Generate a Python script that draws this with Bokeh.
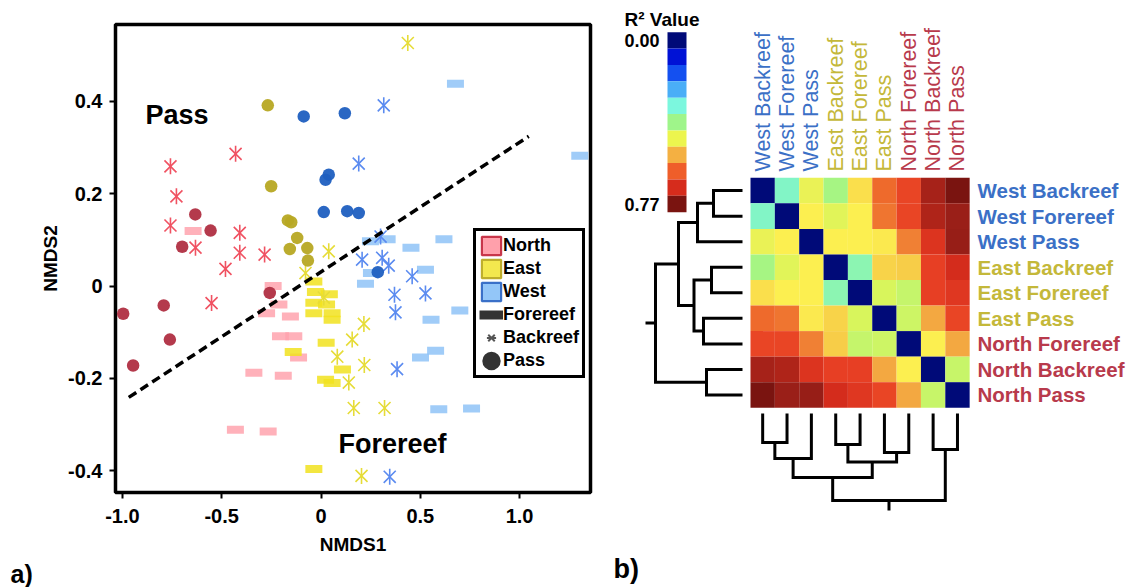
import numpy as np
from bokeh.plotting import figure
from bokeh.models import (Range1d, Label, Legend, LegendItem, FixedTicker,
                          LinearColorMapper, ColumnDataSource, Title)
from bokeh.layouts import row
from bokeh.embed import file_html
from bokeh.resources import INLINE
from bokeh.core.properties import value

FONT = "Liberation Sans"

# ---------------- NMDS data (panel a) ----------------
nf_x = [-0.644, -0.241, -0.212, -0.274, -0.154, -0.204, -0.137, -0.113, -0.338, -0.190, -0.431, -0.266]
nf_y = [0.119, 0.000, -0.040, -0.059, -0.066, -0.109, -0.109, -0.155, -0.188, -0.194, -0.311, -0.315]
nb_x = [-0.430, -0.758, -0.728, -0.758, -0.409, -0.632, -0.409, -0.284, -0.481, -0.551]
nb_y = [0.286, 0.259, 0.194, 0.131, 0.115, 0.083, 0.072, 0.068, 0.037, -0.037]
np_x = [-0.633, -0.556, -0.699, -0.258, -0.996, -0.792, -0.761, -0.946]
np_y = [0.155, 0.120, 0.085, -0.015, -0.060, -0.042, -0.116, -0.172]
ef_x = [-0.036, -0.028, 0.042, -0.036, 0.028, -0.036, 0.056, 0.056, 0.026, -0.140, 0.108, 0.023, 0.056, -0.036]
ef_y = [0.010, -0.013, -0.018, -0.036, -0.040, -0.059, -0.059, -0.073, -0.123, -0.143, -0.181, -0.203, -0.210, -0.396]
eb_x = [0.437, 0.039, -0.078, 0.014, 0.216, 0.157, 0.082, 0.218, 0.140, 0.165, 0.320, 0.204]
eb_y = [0.526, 0.075, 0.028, -0.025, -0.082, -0.116, -0.153, -0.171, -0.209, -0.264, -0.264, -0.411]
ep_x = [-0.268, -0.251, -0.167, -0.150, -0.120, -0.157, -0.069, -0.066]
ep_y = [0.391, 0.216, 0.142, 0.138, 0.104, 0.080, 0.082, 0.055]
wf_x = [0.677, 1.303, 0.249, 0.333, 0.453, 0.619, 0.254, 0.526, 0.224, 0.699, 0.554, 0.577, 0.501, 0.593, 0.758]
wf_y = [0.438, 0.282, 0.097, 0.101, 0.083, 0.101, 0.028, 0.035, 0.005, -0.053, -0.073, -0.140, -0.155, -0.267, -0.265]
wb_x = [0.316, 0.190, 0.300, 0.207, 0.308, 0.341, 0.459, 0.526, 0.370, 0.375, 0.383, 0.346]
wb_y = [0.391, 0.265, 0.107, 0.057, 0.061, 0.044, 0.021, -0.016, -0.019, -0.057, -0.180, -0.413]
wp_x = [-0.087, 0.120, 0.023, 0.039, 0.014, 0.132, 0.190, 0.286]
wp_y = [0.367, 0.374, 0.230, 0.241, 0.160, 0.162, 0.158, 0.030]

sep_x = [-0.968, 1.046]
sep_y = [-0.241, 0.324]

x_ticks = [-1.0, -0.5, 0.0, 0.5, 1.0]
y_ticks = [-0.4, -0.2, 0.0, 0.2, 0.4]
x_tick_text = {-1.0: "-1.0", -0.5: "-0.5", 0.0: "0", 0.5: "0.5", 1.0: "1.0"}
y_tick_text = {-0.4: "-0.4", -0.2: "-0.2", 0.0: "0", 0.2: "0.2", 0.4: "0.4"}

# ---------------- R2 matrix data (panel b) ----------------
hm_labels = ["West Backreef", "West Forereef", "West Pass",
             "East Backreef", "East Forereef", "East Pass",
             "North Forereef", "North Backreef", "North Pass"]
hm_region = ["West", "West", "West", "East", "East", "East", "North", "North", "North"]
r2 = [
    [0.00, 0.32, 0.45, 0.37, 0.485, 0.61, 0.65, 0.725, 0.77],
    [0.32, 0.00, 0.47, 0.44, 0.47, 0.60, 0.65, 0.72, 0.735],
    [0.45, 0.47, 0.00, 0.47, 0.47, 0.475, 0.59, 0.675, 0.74],
    [0.37, 0.44, 0.47, 0.00, 0.335, 0.50, 0.505, 0.655, 0.69],
    [0.485, 0.47, 0.47, 0.335, 0.00, 0.43, 0.405, 0.655, 0.67],
    [0.61, 0.60, 0.475, 0.50, 0.43, 0.00, 0.415, 0.55, 0.65],
    [0.65, 0.65, 0.59, 0.505, 0.405, 0.415, 0.00, 0.47, 0.55],
    [0.725, 0.72, 0.675, 0.655, 0.655, 0.55, 0.47, 0.00, 0.41],
    [0.77, 0.735, 0.74, 0.69, 0.67, 0.65, 0.55, 0.41, 0.00],
]
r2_low, r2_high = 0.0, 0.77
cb_ticks = [0.00, 0.77]
# hierarchical clustering (child a, child b, height)
merges = [(0, 1, 0.29), (9, 2, 0.45), (3, 4, 0.31), (5, 6, 0.39),
          (11, 12, 0.485), (10, 13, 0.64), (7, 8, 0.36), (14, 15, 0.87)]

# ---------------- styles ----------------
C = {
    "NF": "#ffa3ae", "NB": "#f05262", "NP": "#b02f42",
    "EF": "#f1e21e", "EB": "#e6dc38", "EP": "#b7a823",
    "WF": "#8fc3f7", "WB": "#5b8bf0", "WP": "#1f5fc0",
}
region_text = {"West": "#3b70c6", "East": "#c4b83a", "North": "#b83a4c"}
cb_colors = ["#000a78", "#0012d6", "#1450f0", "#4aaef7", "#7cf7de", "#9ff58a",
             "#ecf54e", "#f4b042", "#ef5e2a", "#d62c1c", "#7a1410"]
hm_anchor_vals = [0.0, 0.05, 0.12, 0.2, 0.308, 0.36, 0.43, 0.47, 0.52, 0.56, 0.61, 0.655, 0.69, 0.735, 0.77]
hm_anchor_cols = ["#000a78", "#0012d0", "#0f4cf0", "#46aaf5", "#7af5d8", "#9ef58a", "#d8f55c", "#fcef50",
                  "#f5c045", "#f2a040", "#ee6a2c", "#e84024", "#d42c1c", "#9c2018", "#7a1410"]


def hex2rgb(h):
    h = h.lstrip("#")
    return np.array([int(h[i:i + 2], 16) for i in (0, 2, 4)], dtype=float)


def build_palette(vals, cols, n=232):
    grid = np.linspace(vals[0], vals[-1], n)
    rgb = np.array([hex2rgb(c) for c in cols])
    out = []
    for g in grid:
        r = [np.interp(g, vals, rgb[:, k]) for k in range(3)]
        out.append("#%02x%02x%02x" % tuple(int(round(v)) for v in r))
    return out


hm_palette = build_palette(hm_anchor_vals, hm_anchor_cols)

# ================= Panel a: NMDS scatter =================
X0PX, XUNIT = 320.5, 198.6
Y0PX, YUNIT = 285.5, 462.0
FL, FR, FT, FB = 115, 590, 24, 492   # frame edges in window px


def ax(px):
    return (px - X0PX) / XUNIT


def ay(py):
    return (Y0PX - py) / YUNIT


p1 = figure(width=610, height=587, x_range=Range1d(ax(FL), ax(FR)), y_range=Range1d(ay(FB), ay(FT)),
            output_backend="svg", toolbar_location=None, frame_align=False,
            min_border_left=FL, min_border_right=610 - FR, min_border_top=FT, min_border_bottom=587 - FB)
p1.grid.visible = False
p1.outline_line_color = "black"
p1.outline_line_width = 3.5
p1.outline_line_alpha = 1.0
p1.xaxis.ticker = FixedTicker(ticks=x_ticks)
p1.yaxis.ticker = FixedTicker(ticks=y_ticks)
p1.xaxis.major_label_overrides = x_tick_text
p1.yaxis.major_label_overrides = y_tick_text
p1.xaxis.axis_label = "NMDS1"
p1.yaxis.axis_label = "NMDS2"
for a in (p1.xaxis[0], p1.yaxis[0]):
    a.axis_line_color = None
    a.major_tick_out = 6
    a.major_tick_in = 0
    a.major_tick_line_width = 2
    a.minor_tick_line_color = None
    a.major_label_text_font = FONT
    a.major_label_text_font_style = "bold"
    a.major_label_text_font_size = "20px"
    a.major_label_text_color = "black"
    a.axis_label_text_font = FONT
    a.axis_label_text_font_style = "bold"
    a.axis_label_text_font_size = "19px"
    a.axis_label_text_color = "black"
p1.xaxis.major_label_standoff = 10
p1.yaxis.major_label_standoff = 7
p1.xaxis.axis_label_standoff = 8
p1.yaxis.axis_label_standoff = 4

# forereef (rectangles)
for xs, ys, k in ((nf_x, nf_y, "NF"), (ef_x, ef_y, "EF"), (wf_x, wf_y, "WF")):
    p1.scatter(xs, ys, marker="dash", size=17, line_width=8, line_color=C[k], line_alpha=0.85)
# backreef (six-armed asterisks: an x with a vertical bar)
for xs, ys, k in ((nb_x, nb_y, "NB"), (eb_x, eb_y, "EB"), (wb_x, wb_y, "WB")):
    p1.scatter(xs, ys, marker="x", size=17, line_width=1.6, line_color=C[k])
    p1.scatter(xs, ys, marker="dash", angle=np.pi / 2, size=16, line_width=1.6, line_color=C[k])
# pass (circles)
for xs, ys, k in ((np_x, np_y, "NP"), (ep_x, ep_y, "EP"), (wp_x, wp_y, "WP")):
    p1.scatter(xs, ys, marker="circle", size=12.5, fill_color=C[k], line_color=None, fill_alpha=0.95)

p1.line(sep_x, sep_y, line_color="black", line_width=3.5, line_dash="9 5")

lab_kw = dict(text_font=FONT, text_font_style="bold", text_color="black", text_baseline="middle")
p1.add_layout(Label(x=ax(145), y=ay(114), text="Pass", text_font_size="27px", **lab_kw))
p1.add_layout(Label(x=ax(338), y=ay(443), text="Forereef", text_font_size="27px", **lab_kw))
p1.add_layout(Title(text="a)", align="left", offset=-(FL - 10), standoff=0, text_font=FONT,
                    text_font_style="bold", text_font_size="25px", text_color="black"), "below")

# legend (dummy renderers carry the legend styling)
nan = [np.nan]
lg_n = p1.rect(nan, nan, width=1, height=1, fill_color="#ffa0ab", line_color="#c8364a", line_width=2.2)
lg_e = p1.rect(nan, nan, width=1, height=1, fill_color="#f3e84e", line_color="#beae2c", line_width=2.2)
lg_w = p1.rect(nan, nan, width=1, height=1, fill_color="#93c6f8", line_color="#3a70c8", line_width=2.2)
lg_f = p1.line(nan, nan, line_color="#333333", line_width=9)
lg_b1 = p1.scatter(nan, nan, marker="x", line_color="#555555", line_width=2)
lg_b2 = p1.scatter(nan, nan, marker="dash", angle=np.pi / 2, line_color="#555555", line_width=2)
lg_p = p1.ellipse(nan, nan, width=16, height=16, width_units="screen", height_units="screen",
                  fill_color="#333333", line_color=None)
legend = Legend(items=[LegendItem(label="North", renderers=[lg_n]),
                       LegendItem(label="East", renderers=[lg_e]),
                       LegendItem(label="West", renderers=[lg_w]),
                       LegendItem(label="Forereef", renderers=[lg_f]),
                       LegendItem(label="Backreef", renderers=[lg_b1, lg_b2]),
                       LegendItem(label="Pass", renderers=[lg_p])],
                location=(473 - FL, FB - 378), glyph_width=24, glyph_height=23, spacing=0, padding=3,
                label_standoff=0, label_height=20, label_text_font=FONT, label_text_font_style="bold",
                label_text_font_size="18px", label_text_color="black",
                border_line_color="black", border_line_width=3, border_line_alpha=1.0,
                background_fill_color="white", background_fill_alpha=1.0)
p1.add_layout(legend)

# ================= Panel b: R2 heatmap with dendrograms =================
HX0, HY0 = 750.0, 177.3      # heatmap top-left (window px)
CW, CH = 24.35, 25.55        # cell size px
PX0 = 610                    # panel b left edge in window px
DPX = 100.0                  # dendrogram px per height unit
STUB = 0.1


def bx(px):
    return (px - HX0) / CW


def by(py):
    return (HY0 - py) / CH


p2 = figure(width=1137 - PX0, height=587, x_range=Range1d(bx(PX0), bx(1137)), y_range=Range1d(by(587), by(0)),
            output_backend="svg", toolbar_location=None, min_border=0, frame_align=False,
            x_axis_location=None, y_axis_location=None)
p2.grid.visible = False
p2.outline_line_color = None

n = len(hm_labels)
cx, cy, cv = [], [], []
for i in range(n):
    for j in range(n):
        cx.append(j + 0.5)
        cy.append(-(i + 0.5))
        cv.append(r2[i][j])
mapper = LinearColorMapper(palette=hm_palette, low=r2_low, high=r2_high)
p2.rect(x="x", y="y", width=1.0, height=1.0, source=ColumnDataSource(dict(x=cx, y=cy, v=cv)),
        fill_color={"field": "v", "transform": mapper}, line_color=None)

# row labels (right) and column labels (top)
lab_cols = [region_text[r] for r in hm_region]
p2.text(x=[bx(977)] * n, y=[-(i + 0.5) for i in range(n)], text=hm_labels, text_color=lab_cols,
        text_font=value(FONT), text_font_style="bold", text_font_size="20.5px",
        text_align="left", text_baseline="middle")
p2.text(x=[j + 0.5 for j in range(n)], y=[by(171)] * n, text=hm_labels, text_color=lab_cols,
        angle=np.pi / 2, text_font=value(FONT), text_font_size="21.5px",
        text_align="left", text_baseline="middle")


# dendrograms
def dendro_paths(merge_list, n_leaves):
    pos = {i: i + 0.5 for i in range(n_leaves)}
    hgt = {i: 0.0 for i in range(n_leaves)}
    paths = []
    for k, (a, b, h) in enumerate(merge_list):
        node = n_leaves + k
        paths.append(([pos[a], pos[a], pos[b], pos[b]], [hgt[a], h, h, hgt[b]]))
        pos[node] = (pos[a] + pos[b]) / 2.0
        hgt[node] = h
    root = n_leaves + len(merge_list) - 1
    paths.append(([pos[root], pos[root]], [hgt[root], hgt[root] + STUB]))
    return paths


paths = dendro_paths(merges, n)
LEAF_X = bx(742)
LEAF_Y = by(413)
lx = [[LEAF_X - h * DPX / CW for h in hs] for ps, hs in paths]
ly = [[-p for p in ps] for ps, hs in paths]
p2.multi_line(lx, ly, line_color="black", line_width=3, line_join="miter")
dx = [list(ps) for ps, hs in paths]
dy = [[LEAF_Y - h * DPX / CH for h in hs] for ps, hs in paths]
p2.multi_line(dx, dy, line_color="black", line_width=3, line_join="miter")

# colour key
CB_L, CB_R, CB_T, CB_B = 667, 686, 31.7, 211.7
nb = len(cb_colors)
bh = (CB_B - CB_T) / nb
p2.rect(x=[bx((CB_L + CB_R) / 2)] * nb, y=[by(CB_T + (k + 0.5) * bh) for k in range(nb)],
        width=(CB_R - CB_L) / CW, height=bh / CH, fill_color=cb_colors, line_color=None)
tick_py = [CB_T + bh / 2 + (v - r2_low) / (r2_high - r2_low) * (CB_B - CB_T - bh) for v in cb_ticks]
p2.text(x=[bx(659)] * len(cb_ticks), y=[by(t) for t in tick_py], text=["%.2f" % v for v in cb_ticks],
        text_font=value(FONT), text_font_style="bold", text_font_size="18px", text_color="black",
        text_align="right", text_baseline="middle")
p2.add_layout(Label(x=bx(624), y=by(19), text="R² Value", text_font_size="19px", **lab_kw))
p2.add_layout(Label(x=bx(613), y=by(568), text="b)", text_font_size="27px", **lab_kw))

layout = row(p1, p2)
open("out.html", "w").write(file_html(layout, INLINE))
